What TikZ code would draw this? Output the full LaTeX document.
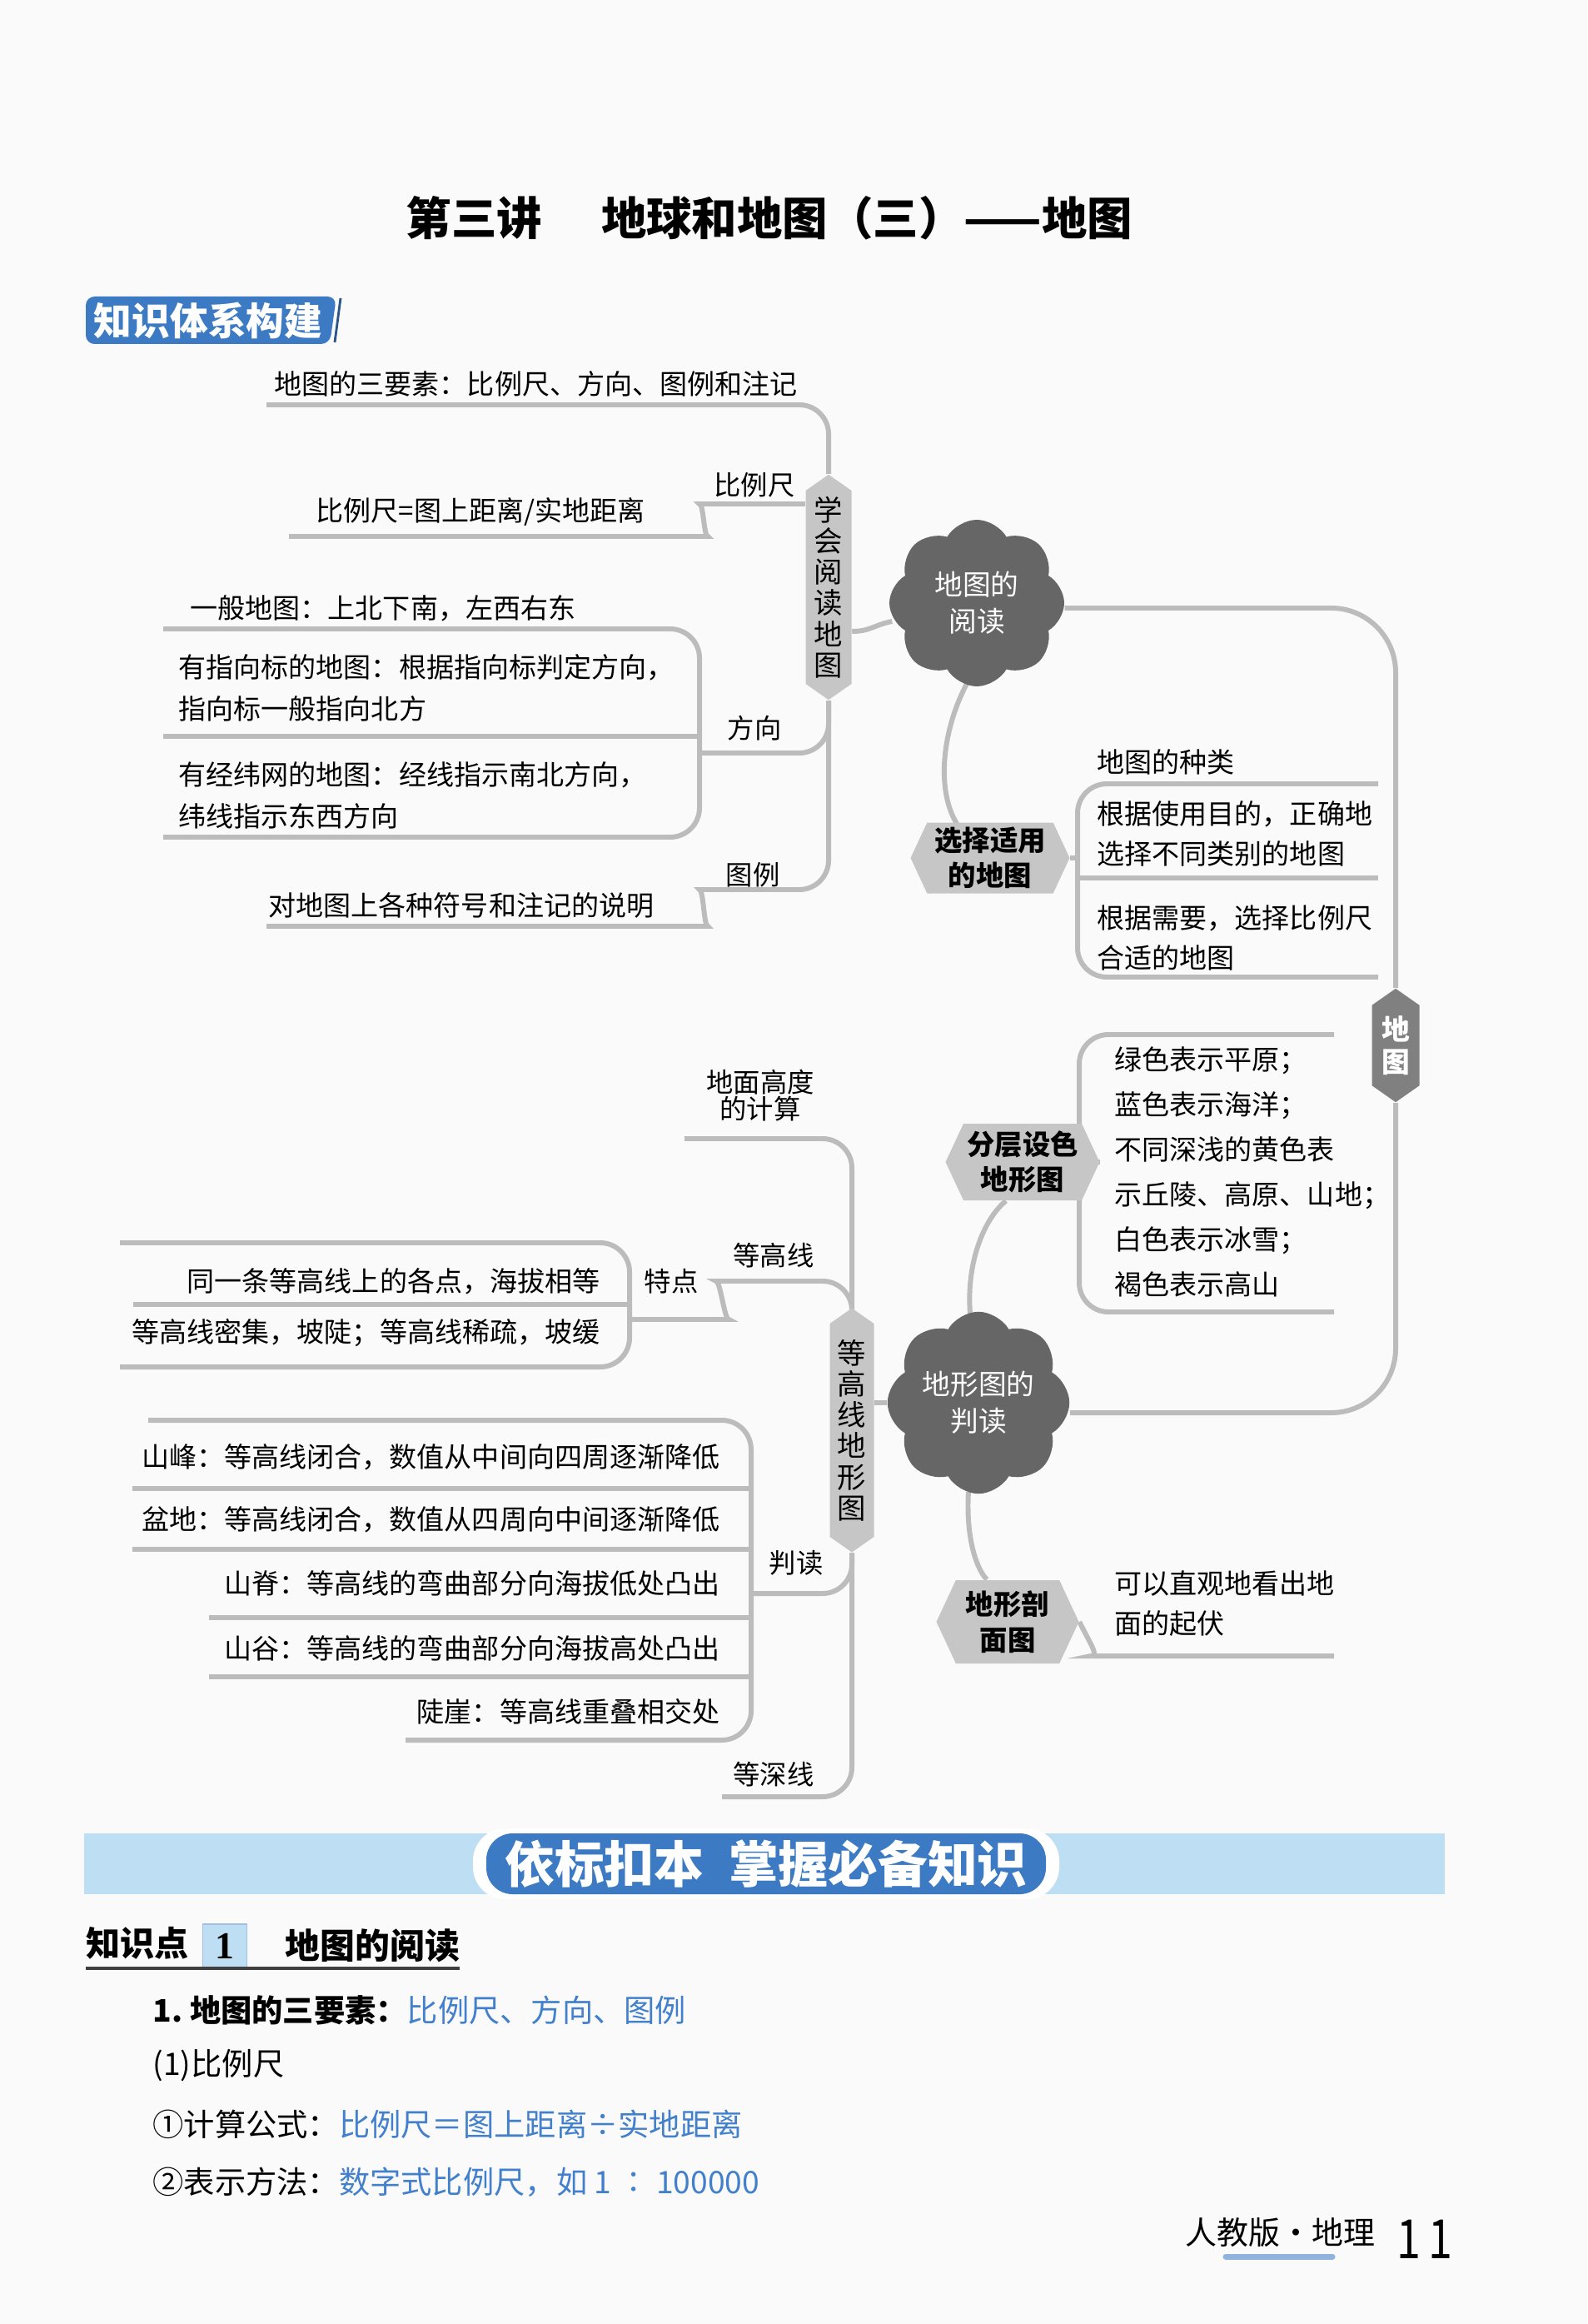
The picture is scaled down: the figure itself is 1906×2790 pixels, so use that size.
\documentclass[tikz,border=0pt]{standalone}
\usepackage{fontspec}
\setmainfont{Noto Sans CJK SC}
\newfontfamily\numfont{Liberation Serif}
\usepackage{graphicx}
\usetikzlibrary{positioning,calc,shapes.symbols,backgrounds}
\definecolor{pagebg}{RGB}{250,250,250}
\definecolor{lineg}{RGB}{188,188,188}
\definecolor{cloudg}{RGB}{102,102,102}
\definecolor{hexg}{RGB}{198,198,198}
\definecolor{hexdark}{RGB}{128,128,128}
\definecolor{tagblue}{RGB}{60,122,196}
\definecolor{bannerlight}{RGB}{190,222,244}
\definecolor{keyblue}{RGB}{66,128,204}
\newcommand\fsz[2]{\fontsize{#1}{#2}\selectfont}

\begin{document}
\begin{tikzpicture}[x=0.1mm, y=-0.1mm,
    branch/.style={draw=lineg, line width=1.7pt, rounded corners=10pt},
    leaf/.style={font=\fsz{9.4}{14.2}, inner sep=0pt, align=left, anchor=west},
    tag/.style={font=\fsz{9.2}{11}, inner sep=0pt, align=center},
    blob/.style={cloud, cloud puffs=8, cloud puff arc=120, aspect=1,
                 fill=cloudg, text=white, font=\fsz{9.6}{12.6}, align=center,
                 minimum width=2.1cm, minimum height=2.0cm, inner sep=0pt},
    hexh/.style={signal, signal to=west and east, signal pointer angle=130,
                 fill=hexg, font=\bfseries\fsz{9.5}{12.1}, align=center, inner sep=1pt},
    hexv/.style={signal, signal to=north and south, signal pointer angle=110,
                 fill=hexg, font=\fsz{9.8}{10.6}, align=center, inner sep=1pt},
  ]
  \useasboundingbox (0,0) rectangle (1906,2790);

  % heading
  \node[font=\bfseries\fsz{15.5}{18}] (title) at (924,262) {第三讲\hspace{1.3em}地球和地图（三）——地图};
  \fill[tagblue, rounded corners=3pt] (103,356) -- (404,356) -- (396,413) -- (103,413) -- cycle;
  \draw[tagblue!70!black, line width=0.8pt] (409,358) -- (402,411);
  \node[font=\bfseries\fsz{13}{13}, text=white] (tagtxt) at (250,385) {知识体系构建};

  % main nodes
  \node[hexv, minimum width=0.55cm, minimum height=2.61cm] (read) at (995,705) {学\\会\\阅\\读\\地\\图};
  \node[blob] (mapread) at (1173,724) {地图的\\阅读};
  \node[hexh, minimum width=1.91cm, minimum height=0.85cm] (choose) at (1189,1030) {选择适用\\的地图};
  \node[hexv, fill=hexdark, text=white, font=\bfseries\fsz{9.6}{11}, minimum width=0.57cm, minimum height=1.25cm] (map) at (1676,1255) {地\\图};
  \node[blob] (terrain) at (1175,1684) {地形图的\\判读};
  \node[hexh, minimum width=1.85cm, minimum height=0.92cm] (layer) at (1228,1395) {分层设色\\地形图};
  \node[hexh, minimum width=1.71cm, minimum height=1.0cm] (profile) at (1210,1947) {地形剖\\面图};
  \node[hexv, minimum width=0.53cm, minimum height=2.85cm] (contour) at (1023,1717) {等\\高\\线\\地\\形\\图};

  % left upper leaves
  \node[leaf] (elem) at (329,461) {地图的三要素：比例尺、方向、图例和注记};
  \node[tag] (kscale) at (906,582) {比例尺};
  \node[leaf] (formula) at (379,614) {比例尺=图上距离/实地距离};
  \node[leaf] (general) at (228,730) {一般地图：上北下南，左西右东};
  \node[leaf] (arrowmap) at (214,826) {有指向标的地图：根据指向标判定方向，\\指向标一般指向北方};
  \node[tag] (kdir) at (906,874) {方向};
  \node[leaf] (gridmap) at (214,955) {有经纬网的地图：经线指示南北方向，\\纬线指示东西方向};
  \node[tag] (klegend) at (904,1050) {图例};
  \node[leaf] (legend) at (322,1087) {对地图上各种符号和注记的说明};

  % right leaves
  \node[leaf] (kinds) at (1317,915) {地图的种类};
  \node[leaf, font=\fsz{9.4}{13.6}] (purpose) at (1317,1001) {根据使用目的，正确地\\选择不同类别的地图};
  \node[leaf, font=\fsz{9.4}{13.6}] (needs) at (1317,1126) {根据需要，选择比例尺\\合适的地图};
  \node[leaf, font=\fsz{9.4}{15.4}] (colors) at (1338,1407) {绿色表示平原；\\蓝色表示海洋；\\不同深浅的黄色表\\示丘陵、高原、山地；\\白色表示冰雪；\\褐色表示高山};
  \node[leaf, font=\fsz{9.4}{13.8}] (relief) at (1338,1925) {可以直观地看出地\\面的起伏};

  % left lower leaves
  \node[tag, font=\fsz{9.2}{9.2}] (height) at (913,1315) {地面高度\\的计算};
  \node[tag] (kline) at (929,1507) {等高线};
  \node[tag] (kfeat) at (806,1538) {特点};
  \node[leaf, anchor=east] (same) at (721,1538) {同一条等高线上的各点，海拔相等};
  \node[leaf, anchor=east] (dense) at (721,1600) {等高线密集，坡陡；等高线稀疏，坡缓};
  \node[tag] (kjudge) at (956,1876) {判读};
  \node[leaf, anchor=east] (peak) at (865,1749) {山峰：等高线闭合，数值从中间向四周逐渐降低};
  \node[leaf, anchor=east] (basin) at (865,1824) {盆地：等高线闭合，数值从四周向中间逐渐降低};
  \node[leaf, anchor=east] (ridge) at (865,1901) {山脊：等高线的弯曲部分向海拔低处凸出};
  \node[leaf, anchor=east] (valley) at (865,1979) {山谷：等高线的弯曲部分向海拔高处凸出};
  \node[leaf, anchor=east] (cliff) at (865,2055) {陡崖：等高线重叠相交处};
  \node[tag] (kdepth) at (929,2130) {等深线};

  \begin{scope}[on background layer]
    \fill[pagebg] (0,0) rectangle (1906,2790);
    % upper left branches
    \draw[branch] (read.north) |- (320,486);
    \draw[branch] (read.west |- 0,605) -- (875,605) .. controls (845,605) and (845,644) .. (815,644) -- (347,644);
    \draw[branch] (196,755) -| (840,1005) -- (196,1005);
    \draw[branch] (196,884) -- (840,884);
    \draw[branch] (840,904) -| (read.south);
    \draw[branch] (read.south) |- (875,1068) .. controls (845,1068) and (845,1112) .. (815,1112) -- (320,1112);
    \draw[branch] (read.east |- 0,758) .. controls (1045,758) and (1050,750) .. ($(mapread.west)+(4,22)$);
    % right side
    \draw[branch, rounded corners=22pt] (mapread.east |- 0,730) -| (map.north);
    \draw[branch, rounded corners=22pt] (map.south) |- (terrain.east |- 0,1696);
    \draw[branch] ($(mapread.south)+(-12,-4)$) .. controls (1130,880) and (1125,950) .. ($(choose.north)+(-40,2)$);
    \draw[branch] (1655,941) -| (1294,1173) -- (1655,1173);
    \draw[branch] (choose.east) -- (1294,1030);
    \draw[branch] (1294,1054) -- (1655,1054);
    \draw[branch] ($(terrain.north)+(-10,3)$) .. controls (1160,1510) and (1185,1460) .. ($(layer.south)+(-20,0)$);
    \draw[branch] (1602,1242) -| (1296,1575) -- (1602,1575);
    \draw[branch] (layer.east) -- (1296,1395);
    \draw[branch] ($(terrain.south)+(-12,-3)$) .. controls (1160,1840) and (1170,1880) .. ($(profile.north)+(-25,0)$);
    \draw[branch] (profile.east) .. controls (1310,1975) and (1320,1988) .. (1345,1988) -- (1602,1988);
    \draw[branch] (contour.east |- terrain.west) -- (terrain.west);
    % lower left branches
    \draw[branch] (contour.north) |- (822,1367);
    \draw[branch] (contour.north) |- (895,1538) .. controls (865,1538) and (870,1584) .. (840,1584) -- (756,1584);
    \draw[branch] (144,1492) -| (756,1641) -- (144,1641);
    \draw[branch] (160,1566) -- (756,1566);
    \draw[branch] (contour.south) |- (902,1913);
    \draw[branch] (178,1705) -| (902,2089) -- (487,2089);
    \draw[branch] (159,1787) -- (902,1787);
    \draw[branch] (159,1860) -- (902,1860);
    \draw[branch] (251,1942) -- (902,1942);
    \draw[branch] (251,2013) -- (902,2013);
    \draw[branch] (contour.south) |- (867,2157);
  \end{scope}

  % knowledge banner
  \fill[bannerlight] (101,2201) rectangle (1735,2274);
  \fill[white, rounded corners=11pt] (568,2195) rectangle (1272,2280);
  \fill[tagblue, rounded corners=9pt] (584,2201) rectangle (1256,2274);
  \node[font=\bfseries\fsz{17}{17}, text=white] (banner) at (920,2238) {依标扣本\hspace{0.5em}掌握必备知识};

  \node[font=\bfseries\fsz{11.7}{12}, anchor=west, inner sep=0pt] (kp) at (103,2333) {知识点};
  \node[draw=keyblue!50, fill=bannerlight, minimum width=0.53cm, minimum height=0.52cm, inner sep=0pt,
        font=\numfont\bfseries\fsz{13}{13}] (kpnum) at (270,2336) {1};
  \node[font=\bfseries\fsz{11.9}{12}, anchor=west, inner sep=0pt, right=0.45cm of kpnum] (kptitle) {地图的阅读};
  \draw[line width=1.2pt, black!75] (kp.west |- 0,2363) -- (552,2363);

  \node[font=\fsz{10.6}{12}, anchor=west, inner sep=0pt] (p1) at (183,2413) {\textbf{1.\ 地图的三要素：}\textcolor{keyblue}{比例尺、方向、图例}};
  \node[font=\fsz{10.6}{12}, anchor=west, inner sep=0pt] (p2) at (183,2479) {(1)比例尺};
  \node[font=\fsz{10.6}{12}, anchor=west, inner sep=0pt] (p3) at (183,2550) {①计算公式：\textcolor{keyblue}{比例尺＝图上距离÷实地距离}};
  \node[font=\fsz{10.6}{12}, anchor=west, inner sep=0pt] (p4) at (183,2620) {②表示方法：\textcolor{keyblue}{数字式比例尺，如 1 ∶ 100000}};

  % footer
  \node[font=\fsz{10.8}{12}, anchor=west, inner sep=0pt] (series) at (1423,2680) {人教版·地理};
  \node[font=\fsz{18.5}{18.5}, inner sep=0pt] (pageno) at (1711,2688) {\scalebox{0.8}[1]{1\,1}};
  \draw[keyblue!60, line width=2pt, line cap=round] (1472,2709) -- (1600,2709);
\end{tikzpicture}
\end{document}
